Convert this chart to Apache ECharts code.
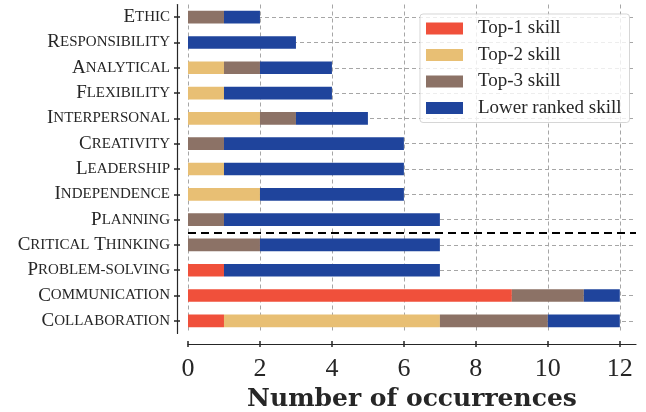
<!DOCTYPE html>
<html>
<head>
<meta charset="utf-8">
<script src="https://cdn.jsdelivr.net/npm/echarts@6/dist/echarts.min.js"></script>
<style>
  html, body { margin: 0; padding: 0; background: #fff; }
  #chart { width: 646px; height: 412px; }
</style>
</head>
<body>
<div id="chart"></div>
<script>
// Skills, listed top to bottom
const skills = ['Ethic', 'Responsibility', 'Analytical', 'Flexibility', 'Interpersonal',
  'Creativity', 'Leadership', 'Independence', 'Planning', 'Critical Thinking',
  'Problem-solving', 'Communication', 'Collaboration'];

// Occurrences per rank, same order as skills
const top1 = [0, 0, 0, 0, 0, 0, 0, 0, 0, 0, 1, 9, 1];
const top2 = [0, 0, 1, 1, 2, 0, 1, 2, 0, 0, 0, 0, 6];
const top3 = [1, 0, 1, 0, 1, 1, 0, 0, 1, 2, 0, 2, 3];
const lower = [1, 3, 2, 3, 2, 5, 5, 4, 6, 5, 6, 1, 2];

const seriesNames = ['Top-1 skill', 'Top-2 skill', 'Top-3 skill', 'Lower ranked skill'];
const seriesColors = ['#F0503B', '#E8BF74', '#8C7266', '#1F449C'];

const xTicks = [0, 2, 4, 6, 8, 10, 12];
const xMax = 12.45;

// Dashed rule separating the upper group from the lower group
const splitAbove = 'Planning';
const splitBelow = 'Critical Thinking';

const FONT = 'Liberation Serif';
const INK = '#262626';

// Small-caps style label: first letter of each word large, the rest as smaller capitals
function smallCaps(name) {
  return name.split(' ').map(function (w) {
    return '{a|' + w.charAt(0).toUpperCase() + '}' + (w.length > 1 ? '{b|' + w.slice(1).toUpperCase() + '}' : '');
  }).join('{a| }');
}

const gridLine = { color: '#a6a6a6', width: 1, type: [4, 3] };
const sepIndex = (skills.indexOf(splitAbove) + skills.indexOf(splitBelow)) / 2;

const chart = echarts.init(document.getElementById('chart'), null, { renderer: 'canvas' });

const option = {
  animation: false,
  backgroundColor: '#fff',
  grid: { left: 188, right: 10, top: 4.5, bottom: 78.5, containLabel: false, outerBoundsMode: 'none' },
  legend: {
    orient: 'vertical',
    left: 420,
    top: 14,
    itemWidth: 37,
    itemHeight: 12,
    itemGap: 7.5,
    padding: [5, 8, 5, 6],
    icon: 'rect',
    backgroundColor: 'rgba(255,255,255,0.8)',
    borderColor: 'rgba(204,204,204,0.8)',
    borderWidth: 1,
    borderRadius: 3,
    data: seriesNames,
    textStyle: { fontFamily: FONT, fontSize: 19, lineHeight: 18, color: INK, padding: [0, 0, 0, 10] }
  },
  xAxis: [
    {
      type: 'value', min: 0, max: xMax, offset: 10.5,
      axisLine: { show: true, onZero: false, lineStyle: { color: INK, width: 1.2 } },
      axisTick: { show: true, length: 3, customValues: xTicks, lineStyle: { color: INK, width: 1.5 } },
      axisLabel: { customValues: xTicks, fontFamily: FONT, fontSize: 26, color: INK, margin: 12 },
      splitLine: { show: false },
      name: 'Number of occurrences',
      nameLocation: 'middle',
      nameGap: 36,
      nameTextStyle: { fontFamily: 'DejaVu Serif', fontSize: 25, fontWeight: 'bold', color: INK }
    },
    {
      type: 'value', min: 0, max: xMax, offset: 10.5, position: 'bottom',
      axisLine: { show: false, onZero: false },
      axisTick: { show: true, inside: true, length: 3, customValues: xTicks, lineStyle: { color: INK, width: 1.5 } },
      axisLabel: { show: false },
      splitLine: { show: false }
    }
  ],
  yAxis: [
    {
      type: 'category', data: skills, inverse: true, offset: 11,
      axisLine: { show: true, onZero: false, lineStyle: { color: INK, width: 1.2 } },
      axisTick: { show: true, alignWithLabel: true, length: 3, lineStyle: { color: INK, width: 1.5 } },
      axisLabel: {
        margin: 7,
        formatter: smallCaps,
        rich: {
          a: { fontFamily: FONT, fontSize: 19, color: INK },
          b: { fontFamily: FONT, fontSize: 15, color: INK }
        }
      },
      splitLine: { show: false }
    },
    {
      type: 'category', data: skills, inverse: true, offset: 11, position: 'left',
      axisLine: { show: false, onZero: false },
      axisTick: { show: true, inside: true, alignWithLabel: true, length: 3, lineStyle: { color: INK, width: 1.5 } },
      axisLabel: { show: false },
      splitLine: { show: false }
    },
    {
      type: 'value', min: -0.5, max: skills.length - 0.5, inverse: true, show: false,
      axisLine: { onZero: false }
    }
  ],
  series: [
    {
      // background grid
      type: 'line', data: [], z: 1, silent: true, xAxisIndex: 0, yAxisIndex: 0,
      markLine: {
        z: 1, silent: true, symbol: 'none', label: { show: false }, lineStyle: gridLine,
        data: xTicks.map(function (v) { return { xAxis: v }; })
          .concat(skills.map(function (s) { return { yAxis: s }; }))
      }
    },
    {
      // group separator
      type: 'line', data: [], z: 5, silent: true, xAxisIndex: 0, yAxisIndex: 2,
      markLine: {
        silent: true, symbol: 'none', label: { show: false },
        lineStyle: { color: '#000', width: 2, type: [8, 5] },
        data: [{ yAxis: sepIndex }]
      }
    }
  ].concat([top1, top2, top3, lower].map(function (vals, i) {
    return {
      name: seriesNames[i],
      type: 'bar',
      stack: 'rank',
      barWidth: '50%',
      z: 2,
      xAxisIndex: 0,
      yAxisIndex: 0,
      itemStyle: { color: seriesColors[i] },
      emphasis: { disabled: true },
      data: vals
    };
  }))
};

chart.setOption(option);
</script>
</body>
</html>
